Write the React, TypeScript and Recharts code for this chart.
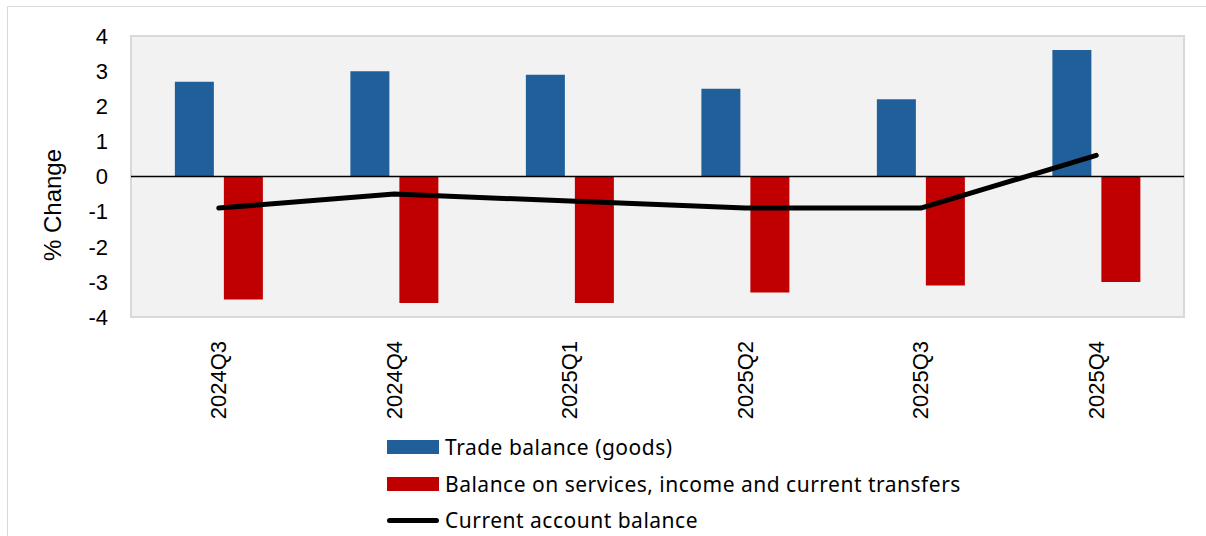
import React from "react";
import {
  ComposedChart,
  Bar,
  Line,
  XAxis,
  YAxis,
  CartesianGrid,
  ReferenceLine,
  ReferenceArea,
} from "recharts";

// quarterly current account components, % change
const quarters = ["2024Q3", "2024Q4", "2025Q1", "2025Q2", "2025Q3", "2025Q4"];
const tradeGoods = [2.7, 3.0, 2.9, 2.5, 2.2, 3.6];
const servicesIncome = [-3.5, -3.6, -3.6, -3.3, -3.1, -3.0];
const currentAccount = [-0.9, -0.5, -0.7, -0.9, -0.9, 0.6];
const yTicks = [-4, -3, -2, -1, 0, 1, 2, 3, 4];

const series = [
  { key: "trade", name: "Trade balance (goods)", color: "#215F9A", kind: "bar" },
  { key: "services", name: "Balance on services, income and current transfers", color: "#C00000", kind: "bar" },
  { key: "current", name: "Current account balance", color: "#000000", kind: "line" },
];

const data = quarters.map((q, i) => ({
  quarter: q,
  trade: tradeGoods[i],
  services: servicesIncome[i],
  current: currentAccount[i],
}));

const axisFont = "'Liberation Sans', Arial, sans-serif";

// rotated category labels hanging below the plot
const QuarterTick = (props: any) => {
  const { x, y, payload } = props;
  const top = y + 16;
  return (
    <text
      x={x}
      y={top}
      transform={`rotate(-90 ${x} ${top})`}
      textAnchor="end"
      dominantBaseline="central"
      fontFamily={axisFont}
      fontSize={22}
      fill="#000"
    >
      {payload.value}
    </text>
  );
};

const AxisTitle = () => (
  <text
    x={52}
    y={205}
    transform="rotate(-90 52 205)"
    textAnchor="middle"
    dominantBaseline="central"
    fontFamily={axisFont}
    fontSize={24}
    fill="#000"
  >
    % Change
  </text>
);

function LegendBox() {
  return (
    <div
      style={{
        position: "absolute",
        left: 387,
        top: 429,
        fontFamily: "'Noto Sans', sans-serif",
        fontSize: 21,
        letterSpacing: 0.5,
        color: "#000",
      }}
    >
      {series.map((s) => (
        <div key={s.key} style={{ display: "flex", alignItems: "center", height: 36.5 }}>
          {s.kind === "bar" ? (
            <div style={{ width: 52, height: 14, background: s.color }} />
          ) : (
            <div style={{ width: 52, height: 5, borderRadius: 3, background: s.color }} />
          )}
          <span style={{ marginLeft: 6 }}>{s.name}</span>
        </div>
      ))}
    </div>
  );
}

export default function App() {
  return (
    <div style={{ position: "absolute", left: 0, top: 0, width: 1206, height: 536, background: "#fff", overflow: "hidden" }}>
      <div
        style={{
          position: "absolute",
          left: 7,
          top: 6,
          width: 1220,
          height: 560,
          border: "1.5px solid #d9d9d9",
        }}
      />
      <ComposedChart
        width={1206}
        height={536}
        data={data}
        margin={{ top: 36, right: 22, bottom: 0, left: 0 }}
        barCategoryGap="25%"
        barGap={10}
        style={{ position: "absolute", left: 0, top: 0 }}
      >
        <CartesianGrid horizontal={false} vertical={false} fill="#f2f2f2" />
        <ReferenceArea y1={-4} y2={4} fill="none" stroke="#d9d9d9" strokeWidth={2} ifOverflow="visible" />
        <XAxis
          dataKey="quarter"
          height={219}
          axisLine={false}
          tickLine={false}
          tick={<QuarterTick />}
          interval={0}
        />
        <YAxis
          width={131}
          domain={[-4, 4]}
          ticks={yTicks}
          axisLine={false}
          tickLine={false}
          tickSize={0}
          tickMargin={23}
          tick={{ fontFamily: axisFont, fontSize: 22, fill: "#000" }}
          label={<AxisTitle />}
        />
        <ReferenceLine y={0} stroke="#000" strokeWidth={1.5} />
        <Bar dataKey="trade" name={series[0].name} fill={series[0].color} isAnimationActive={false} />
        <Bar dataKey="services" name={series[1].name} fill={series[1].color} isAnimationActive={false} />
        <Line
          dataKey="current"
          name={series[2].name}
          type="linear"
          stroke={series[2].color}
          strokeWidth={5}
          strokeLinecap="round"
          strokeLinejoin="round"
          dot={false}
          activeDot={false}
          isAnimationActive={false}
        />
      </ComposedChart>
      <LegendBox />
    </div>
  );
}
